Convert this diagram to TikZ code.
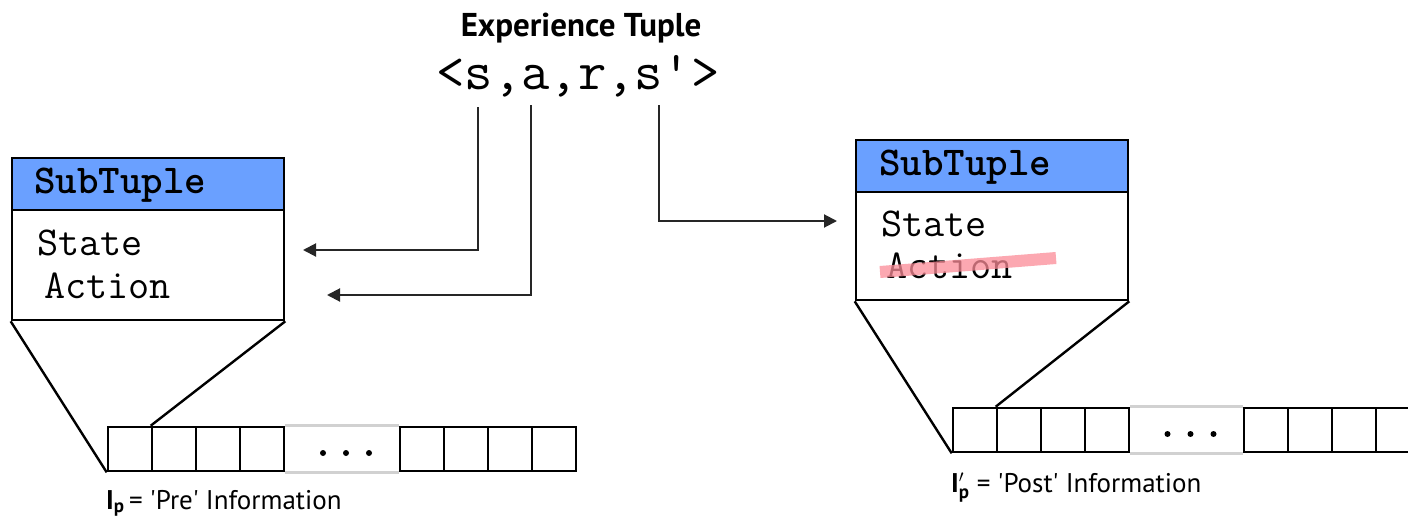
\documentclass[tikz,border=0pt]{standalone}
\usepackage{amsmath}
\usepackage{fontspec}
\setmainfont{PT Sans}
\usetikzlibrary{arrows.meta,positioning,calc}
\definecolor{headblue}{RGB}{106,160,255}
\definecolor{strike}{RGB}{252,140,152}
\newcommand{\sq}{\textquotesingle}

\begin{document}
\begin{tikzpicture}[x=1pt,y=-1pt,
  conn/.style={line width=2pt,draw=black!85,-{Triangle[length=13pt,width=13pt]}},
  hd/.style={draw,line width=2.6pt,fill=headblue,minimum height=52pt,minimum width=272pt,inner sep=0pt},
  bodybox/.style={draw,line width=2.6pt,fill=white,minimum width=272pt,inner sep=0pt},
  field/.style={anchor=base west,inner sep=0pt,font=\ttfamily\fontsize{41}{45}\selectfont},
  cell/.style={draw,line width=2.6pt,minimum width=44pt,minimum height=44pt,inner sep=0pt},
  gap/.style={line width=2.6pt,draw=black!18},
  funnel/.style={line width=2.4pt}]
\useasboundingbox (0,0) rectangle (1408,519);

% experience tuple
\node[font=\bfseries\fontsize{33}{37}\selectfont] (title) at (581,28) {Experience Tuple};
\node[font=\ttfamily\fontsize{55}{60}\selectfont] (tuple) at (578,76) {<s,a,r,s'>};
\coordinate (ts) at (478,107);
\coordinate (ta) at (531,105);
\coordinate (tsp) at (659,105);

% pre subtuple
\begin{scope}
\node[hd] (hdL) at (148,184) {};
\node[bodybox,minimum height=110pt] (bodyL) at (148,265) {};
\node[field,font=\ttfamily\bfseries\fontsize{41}{45}\selectfont] (nameL) at (34,193) {SubTuple};
\node[field] (stateL) at (37,255) {State};
\node[field] (actionL) at (44,298) {Action};
\coordinate (inS) at (303,250);
\coordinate (inA) at (327,295);
\foreach \i in {0,...,3} \node[cell] (pa\i) at (130+44*\i,449) {};
\foreach \i in {0,...,3} \node[cell] (pb\i) at (422+44*\i,449) {};
\draw[gap] (pa3.north east) -- (pb0.north west);
\draw[gap] (pa3.south east) -- (pb0.south west);
\foreach \k in {-1,0,1} \fill ($(pa3.east)!0.5!(pb0.west)+(4+23*\k,4)$) circle (3pt);
\draw[funnel] (bodyL.south west) -- (pa0.south west);
\draw[funnel] (bodyL.south east) -- (pa1.north west);
\node[anchor=base west,inner sep=0pt,font=\fontsize{27}{31}\selectfont] (preL) at (106,509)
  {\textbf{I}$_{\textbf{p}}$\,= \sq Pre\sq{} Information};
\end{scope}

% post subtuple
\begin{scope}
\node[hd] (hdR) at (992,166) {};
\node[bodybox,minimum height=108pt] (bodyR) at (992,246) {};
\node[field,font=\ttfamily\bfseries\fontsize{41}{45}\selectfont] (nameR) at (879,175) {SubTuple};
\node[field] (stateR) at (881,236) {State};
\node[field] (actionR) at (886,278) {Action};
\draw[strike,line width=12pt,opacity=0.75] ($(actionR.base west)+(-6,-6)$) -- ($(actionR.base west)+(170,-20)$);
\coordinate (inR) at (837,221);
\foreach \i in {0,...,3} \node[cell] (qa\i) at (975+44*\i,430) {};
\foreach \i in {0,...,3} \node[cell] (qb\i) at (1266+44*\i,430) {};
\draw[gap] (qa3.north east) -- (qb0.north west);
\draw[gap] (qa3.south east) -- (qb0.south west);
\foreach \k in {-1,0,1} \fill ($(qa3.east)!0.5!(qb0.west)+(4+23*\k,4)$) circle (3pt);
\draw[funnel] (bodyR.south west) -- (qa0.south west);
\draw[funnel] (bodyR.south east) -- (qa1.north west);
\node[anchor=base west,inner sep=0pt,font=\fontsize{27}{31}\selectfont] (postL) at (951,492)
  {\textbf{I}$'_{\textbf{p}}$ = \sq Post\sq{} Information};
\end{scope}

% tuple parts to subtuples
\draw[conn] (ts) |- (inS);
\draw[conn] (ta) |- (inA);
\draw[conn] (tsp) |- (inR);
\end{tikzpicture}
\end{document}
